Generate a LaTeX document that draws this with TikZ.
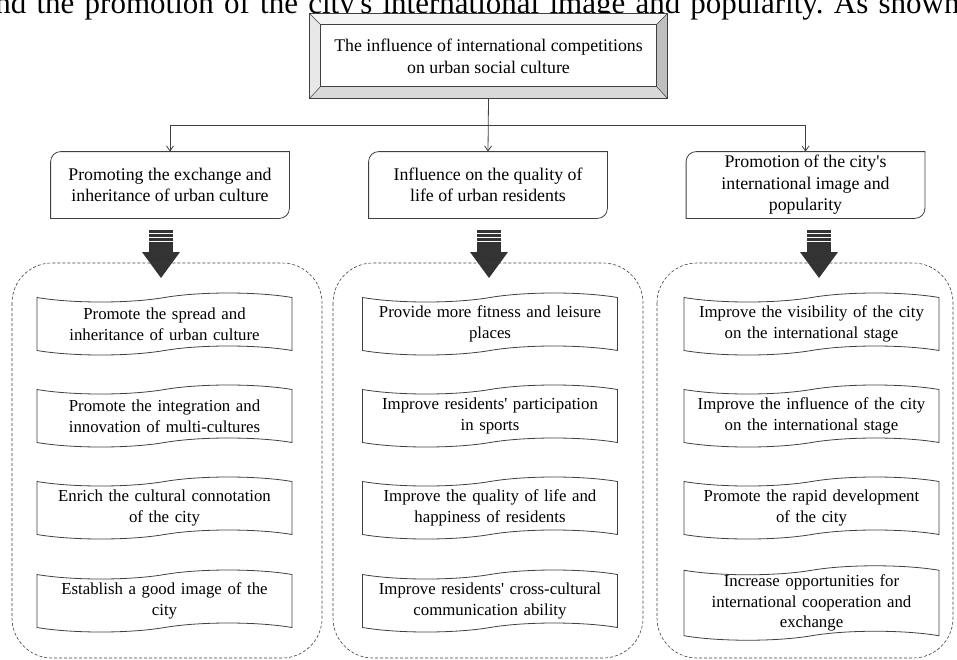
\documentclass[tikz,border=0pt]{standalone}
\usepackage{fontspec}
\setmainfont{Liberation Serif}
\usetikzlibrary{shapes.symbols,arrows.meta}
\definecolor{linec}{HTML}{404040}
\definecolor{arrowc}{HTML}{333333}
\newcommand{\ap}{\textquotesingle}
\frenchspacing

\begin{document}
\begin{tikzpicture}[x=1pt, y=-1pt, line width=0.8pt,
    topbox/.style={minimum width=357pt, minimum height=84pt, align=center, inner sep=0pt, font=\fontsize{17.8}{22}\selectfont},
    catbox/.style={minimum width=238pt, minimum height=66pt, align=center, inner sep=0pt, font=\fontsize{17.8}{21.5}\selectfont},
    tapebox/.style={tape, draw=linec, tape bend top=in and out, tape bend bottom=in and out, tape bend height=9pt,
        minimum width=255pt, minimum height=62pt, text width=255pt, align=center, inner sep=0pt, font=\fontsize{16.8}{20.5}\selectfont},
    group/.style={draw=linec, densely dashed, line width=0.6pt, rounded corners=40pt},
    link/.style={draw=linec, -{Straight Barb[length=5pt,width=7pt]}}]
    \useasboundingbox (0,0) rectangle (957,659);
    \clip (0,0) rectangle (957,659);
    % page text
    \node [anchor=base west, inner sep=0pt, font=\fontsize{31}{35}\selectfont\frenchspacing] (page) at (-5,13)
        {\makebox[964pt][s]{nd the promotion of the city\ap s international image and popularity. As shown}};
    % top box
    \node [topbox] (top) at (488.5,56) {};
    \fill [gray!8] (top.north west) -- (top.north east) -- ([shift={(-11,11)}]top.north east) -- ([shift={(11,11)}]top.north west) -- cycle;
    \fill [gray!18] (top.north west) -- ([shift={(11,11)}]top.north west) -- ([shift={(11,-12)}]top.south west) -- (top.south west) -- cycle;
    \fill [gray!30] (top.south west) -- (top.south east) -- ([shift={(-11,-12)}]top.south east) -- ([shift={(11,-12)}]top.south west) -- cycle;
    \fill [gray!50] (top.north east) -- (top.south east) -- ([shift={(-11,-12)}]top.south east) -- ([shift={(-11,11)}]top.north east) -- cycle;
    \draw [linec] (top.north west) rectangle (top.south east);
    \draw [linec, line width=0.5pt] ([shift={(11,11)}]top.north west) rectangle ([shift={(-11,-12)}]top.south east);
    \draw [linec, line width=0.5pt] (top.north west) -- ([shift={(11,11)}]top.north west)
        (top.north east) -- ([shift={(-11,11)}]top.north east)
        (top.south west) -- ([shift={(11,-12)}]top.south west)
        (top.south east) -- ([shift={(-11,-12)}]top.south east);
    \node [topbox, minimum width=0pt, minimum height=0pt] (toptext) at (top) {The influence of international competitions\\on urban social culture};
    % categories
    \node [catbox] (c1) at (170,185) {Promoting the exchange and\\inheritance of urban culture};
    \node [catbox] (c2) at (488,185) {Influence on the quality of\\life of urban residents};
    \node [catbox] (c3) at (805.5,185) {Promotion of the city\ap s\\international image and\\popularity};
    \foreach \n in {c1,c2,c3}
        \draw [linec] (\n.west) [rounded corners=10pt] -- (\n.north west) -- (\n.north) [sharp corners] -- (\n.north east)
            -- (\n.east) [rounded corners=10pt] -- (\n.south east) -- (\n.south) [sharp corners] -- (\n.south west) -- cycle;
    % connectors
    \coordinate (split) at (488,125);
    \draw [link] (top.south) -- (c2.north);
    \draw [link] (split) -| (c1.north);
    \draw [link] (split) -| (c3.north);
    % fat arrows
    \foreach \x in {161,489,819} {
        \fill [arrowc] (\x-12,230) rectangle (\x+12,232.5);
        \fill [arrowc] (\x-12,234) rectangle (\x+12,236.5);
        \fill [arrowc] (\x-12,238) rectangle (\x+12,240.5);
        \fill [arrowc] (\x-12,242) rectangle (\x+12,253);
        \fill [arrowc] (\x-19,252) -- (\x+19,252) -- (\x,278) -- cycle;
    }
    % groups
    \draw [group] (12,263) rectangle (322,658);
    \draw [group] (333,263) rectangle (643,658);
    \draw [group] (657,263) rectangle (953,658);
    % left column
    \node [tapebox] (a1) at (164.5,324) {Promote the spread and\\inheritance of urban culture};
    \node [tapebox] (a2) at (164.5,416) {Promote the integration and\\innovation of multi-cultures};
    \node [tapebox] (a3) at (164.5,508) {Enrich the cultural connotation\\of the city};
    \node [tapebox] (a4) at (164.5,601) {Establish a good image of the\\city};
    % middle column
    \node [tapebox] (b1) at (490,324) {Provide more fitness and leisure\\places};
    \node [tapebox] (b2) at (490,416) {Improve residents\ap\ participation\\in sports};
    \node [tapebox] (b3) at (490,508) {Improve the quality of life and\\happiness of residents};
    \node [tapebox] (b4) at (490,601) {Improve residents\ap\ cross-cultural\\communication ability};
    % right column
    \node [tapebox] (d1) at (811.5,324) {Improve the visibility of the city\\on the international stage};
    \node [tapebox] (d2) at (811.5,416) {Improve the influence of the city\\on the international stage};
    \node [tapebox] (d3) at (811.5,508) {Promote the rapid development\\of the city};
    \node [tapebox] (d4) at (811.5,603) {Increase opportunities for\\international cooperation and\\exchange};
\end{tikzpicture}
\end{document}
